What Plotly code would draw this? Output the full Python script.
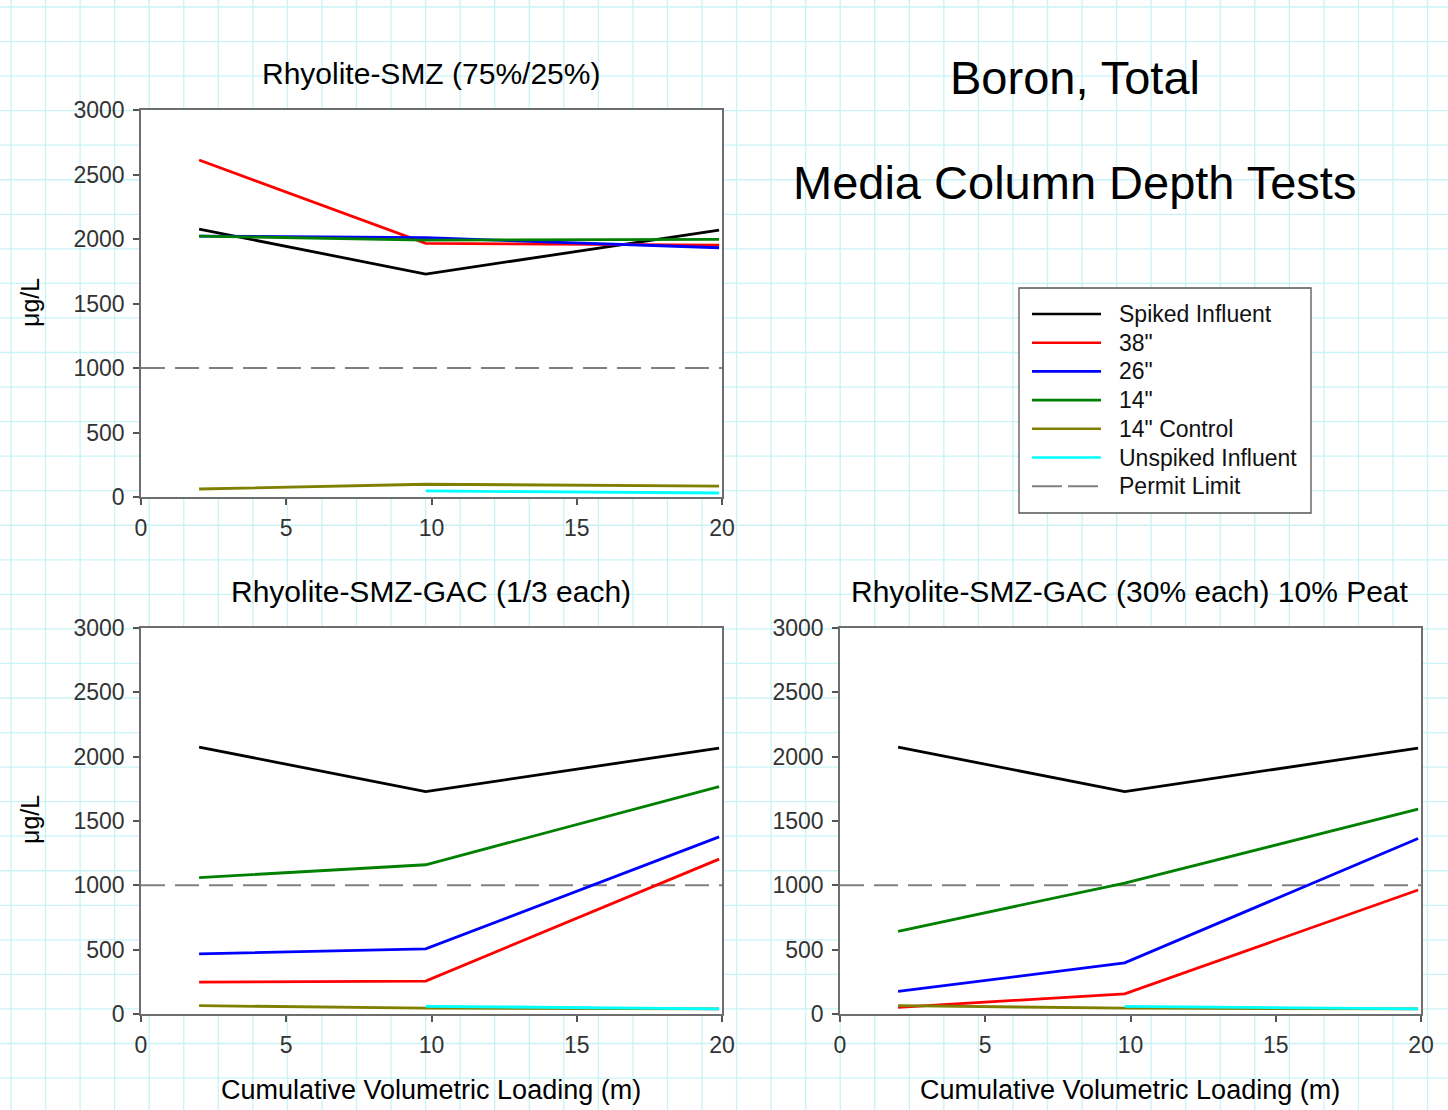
import plotly.graph_objects as go

W, H = 1448, 1110
FONT = "Liberation Sans, Arial, sans-serif"

# ---- data -------------------------------------------------------------
x_load = [2.0, 9.8, 19.9]          # cumulative volumetric loading (m)
x_unspiked = [9.8, 19.9]

series_names = ["Spiked Influent", '38"', '26"', '14"', '14" Control', "Unspiked Influent"]
series_colors = ["#000000", "#ff0000", "#0000ff", "#008000", "#808000", "#00ffff"]

# Rhyolite-SMZ (75%/25%)
smz_spiked = [2077, 1728, 2069]
smz_38 = [2612, 1966, 1953]
smz_26 = [2023, 2010, 1932]
smz_14 = [2023, 1992, 1997]
smz_14_control = [62, 99, 85]
smz_unspiked = [47, 31]

# Rhyolite-SMZ-GAC (1/3 each)
gac_spiked = [2074, 1729, 2067]
gac_38 = [248, 256, 1204]
gac_26 = [467, 506, 1377]
gac_14 = [1060, 1160, 1767]
gac_14_control = [65, 45, 40]
gac_unspiked = [60, 40]

# Rhyolite-SMZ-GAC (30% each) 10% Peat
peat_spiked = [2074, 1729, 2067]
peat_38 = [52, 157, 964]
peat_26 = [175, 398, 1364]
peat_14 = [643, 1018, 1592]
peat_14_control = [65, 45, 40]
peat_unspiked = [60, 40]

permit_limit = 1000
permit_name = "Permit Limit"
x_range = [0, 20]
y_range = [0, 3000]

panel_titles = ["Rhyolite-SMZ (75%/25%)", "Rhyolite-SMZ-GAC (1/3 each)",
                "Rhyolite-SMZ-GAC (30% each) 10% Peat"]
y_title = "\u03bcg/L"
x_title = "Cumulative Volumetric Loading (m)"
main_title = ["Boron, Total", "Media Column Depth Tests"]

panels = [
    [smz_spiked, smz_38, smz_26, smz_14, smz_14_control, smz_unspiked],
    [gac_spiked, gac_38, gac_26, gac_14, gac_14_control, gac_unspiked],
    [peat_spiked, peat_38, peat_26, peat_14, peat_14_control, peat_unspiked],
]

# ---- layout geometry (pixels) ------------------------------------------
boxes = [  # x0, x1, ytop, ybottom
    (141, 722, 110, 497),
    (141, 722, 628, 1014),
    (840, 1421, 628, 1014),
]


def px(x):
    return x / W


def py(y):
    return 1 - y / H


fig = go.Figure()

for i, series in enumerate(panels):
    sfx = "" if i == 0 else str(i + 1)
    xa, ya = "x" + sfx, "y" + sfx
    fig.add_trace(go.Scatter(
        x=x_range, y=[permit_limit, permit_limit], mode="lines",
        line=dict(color="#808080", width=2, dash="24px,10px"),
        xaxis=xa, yaxis=ya, showlegend=False, hoverinfo="skip"))
    for name, color, vals in zip(series_names, series_colors, series):
        xs = x_unspiked if name == "Unspiked Influent" else x_load
        fig.add_trace(go.Scatter(
            x=xs, y=vals, mode="lines", name=name,
            line=dict(color=color, width=2.8),
            xaxis=xa, yaxis=ya, showlegend=False))

axis_common = dict(
    showline=True, linecolor="#6e6e6e", linewidth=1.5, mirror=True,
    ticks="outside", ticklen=6, tickwidth=1.5, tickcolor="#555555",
    showgrid=False, zeroline=False, automargin=False,
    tickfont=dict(family=FONT, size=23, color="#333333"),
)

layout_axes = {}
for i, (x0, x1, yt, yb) in enumerate(boxes):
    sfx = "" if i == 0 else str(i + 1)
    layout_axes["xaxis" + sfx] = dict(
        axis_common, domain=[px(x0), px(x1)], range=x_range, dtick=5,
        anchor="y" + sfx, ticklabelstandoff=4)
    layout_axes["yaxis" + sfx] = dict(
        axis_common, domain=[py(yb), py(yt)], range=y_range, dtick=500,
        anchor="x" + sfx, ticklabelstandoff=4)

# ---- graph-paper background ---------------------------------------------
step = 34.55
path = []
k = 0
while 11 + k * step < W:
    gx = px(11 + k * step)
    path.append(f"M{gx:.5f},0 L{gx:.5f},1")
    k += 1
k = 0
while 7 + k * step < H:
    gy = py(7 + k * step)
    path.append(f"M0,{gy:.5f} L1,{gy:.5f}")
    k += 1

shapes = [dict(type="path", xref="paper", yref="paper", path=" ".join(path),
               line=dict(color="#c9f3f5", width=1.3), layer="below")]
for (x0, x1, yt, yb) in boxes:
    shapes.append(dict(type="rect", xref="paper", yref="paper",
                       x0=px(x0), x1=px(x1), y0=py(yb), y1=py(yt),
                       fillcolor="white", line=dict(width=0), layer="below"))

# ---- legend -----------------------------------------------------------
shapes.append(dict(type="rect", xref="paper", yref="paper",
                   x0=px(1019), x1=px(1311), y0=py(513), y1=py(288),
                   fillcolor="white", line=dict(color="#555555", width=1.3),
                   layer="below"))

annotations = []
legend_items = list(zip(series_names, series_colors, ["solid"] * 6))
legend_items.append((permit_name, "#808080", "dash"))
for j, (name, color, dash) in enumerate(legend_items):
    ly = 314 + j * 28.7
    if dash == "solid":
        shapes.append(dict(type="line", xref="paper", yref="paper",
                           x0=px(1032), x1=px(1101), y0=py(ly), y1=py(ly),
                           line=dict(color=color, width=2.6)))
    else:
        shapes.append(dict(type="line", xref="paper", yref="paper",
                           x0=px(1032), x1=px(1101), y0=py(ly), y1=py(ly),
                           line=dict(color=color, width=2, dash="30px,6px")))
    annotations.append(dict(x=px(1117), y=py(ly), xref="paper", yref="paper",
                            text=name, showarrow=False, xanchor="left",
                            yanchor="middle",
                            font=dict(family=FONT, size=23, color="#111111")))

# ---- titles -----------------------------------------------------------
def label(text, x, y, size, angle=0):
    return dict(x=px(x), y=py(y), xref="paper", yref="paper", text=text,
                showarrow=False, xanchor="center", yanchor="middle",
                textangle=angle, font=dict(family=FONT, size=size, color="#000000"))


annotations += [
    label(panel_titles[0], 431, 73, 30),
    label(panel_titles[1], 431, 591, 30),
    label(panel_titles[2], 1130, 591, 30),
    label(main_title[0], 1075, 78, 47),
    label(main_title[1], 1074, 182, 47),
    label(y_title, 30, 303, 25, -90),
    label(y_title, 30, 820, 25, -90),
    label(x_title, 431, 1090, 27),
    label(x_title, 1130, 1090, 27),
]

fig.update_layout(
    width=W, height=H,
    margin=dict(l=0, r=0, t=0, b=0),
    paper_bgcolor="white", plot_bgcolor="white",
    showlegend=False,
    shapes=shapes, annotations=annotations,
    **layout_axes,
)

fig.write_html("out.html")
